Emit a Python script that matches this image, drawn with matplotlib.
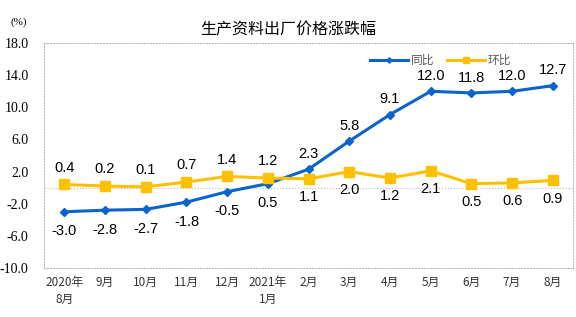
import matplotlib.pyplot as plt
import numpy as np

months = ['2020年\n8月', '9月', '10月', '11月', '12月', '2021年\n1月',
          '2月', '3月', '4月', '5月', '6月', '7月', '8月']
yoy = [-3.0, -2.8, -2.7, -1.8, -0.5, 0.5, 2.3, 5.8, 9.1, 12.0, 11.8, 12.0, 12.7]
mom = [0.4, 0.2, 0.1, 0.7, 1.4, 1.2, 1.1, 2.0, 1.2, 2.1, 0.5, 0.6, 0.9]
yticks = [-10, -6, -2, 2, 6, 10, 14, 18]

cjk = ['Noto Sans CJK SC', 'DejaVu Sans']
serif_cjk = ['Liberation Serif', 'Noto Sans CJK SC']

blue = '#0A64CC'
yellow = '#FFC000'

fig = plt.figure(figsize=(5.76, 3.17), dpi=100)
ax = fig.add_axes([0.0764, 0.1546, 0.9186, 0.7094])

x = np.arange(len(months))
ax.plot(x, yoy, color=blue, lw=2.2, marker='D', ms=4.5, label='同比')
ax.plot(x, mom, color=yellow, lw=2.2, marker='s', ms=7, label='环比')

# data labels: switch sides after the lines cross
for i in x:
    if i <= 5:
        ax.annotate(f'{mom[i]:.1f}', (i, mom[i]), xytext=(0, 12), textcoords='offset points',
                    ha='center', va='center', fontsize=10.5, family='Liberation Sans')
        ax.annotate(f'{yoy[i]:.1f}', (i, yoy[i]), xytext=(0, -14), textcoords='offset points',
                    ha='center', va='center', fontsize=10.5, family='Liberation Sans')
    else:
        ax.annotate(f'{yoy[i]:.1f}', (i, yoy[i]), xytext=(0, 11), textcoords='offset points',
                    ha='center', va='center', fontsize=10.5, family='Liberation Sans')
        ax.annotate(f'{mom[i]:.1f}', (i, mom[i]), xytext=(0, -13), textcoords='offset points',
                    ha='center', va='center', fontsize=10.5, family='Liberation Sans')

ax.set_xlim(-0.5, len(months) - 0.5)
ax.set_ylim(-10, 18)
ax.set_yticks(yticks)
ax.set_yticklabels([f'{v:.1f}' for v in yticks], family='Liberation Serif', fontsize=10)
ax.set_xticks(x)
ax.set_xticklabels(months, family=cjk, fontsize=8.5, color='#333333', linespacing=1.4)
ax.tick_params(length=0, pad=6)
ax.tick_params(axis='y', pad=11)

ax.axhline(0, color='#BBBBBB', lw=0.8, ls=':', zorder=0)
for s in ax.spines.values():
    s.set_linestyle(':')
    s.set_color('#BBBBBB')
    s.set_linewidth(0.8)

fig.text(0.5, 0.905, '生产资料出厂价格涨跌幅', ha='center', va='center',
         family=cjk, fontsize=11.5)
fig.text(0.032, 0.93, '(%)', ha='center', va='center', family='Liberation Serif', fontsize=8)

leg = ax.legend(loc='upper center', bbox_to_anchor=(0.75, 1.0), ncol=2, frameon=False,
                prop={'family': cjk, 'size': 8.5}, handlelength=3.2, handletextpad=0.3,
                columnspacing=1.0, markerscale=0.6)
for t in leg.get_texts():
    t.set_color('#595959')

fig.savefig('out.png', dpi=100)
